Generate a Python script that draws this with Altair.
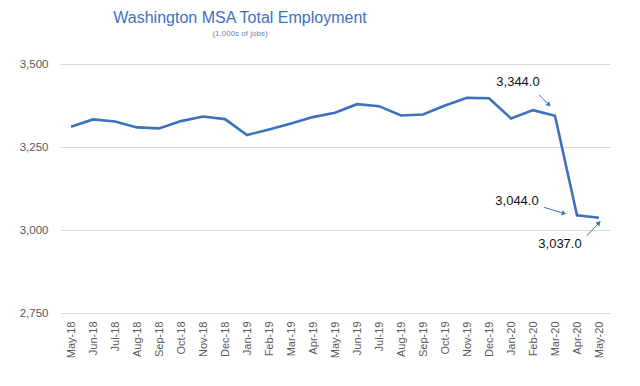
import altair as alt
import pandas as pd

months = ["May-18", "Jun-18", "Jul-18", "Aug-18", "Sep-18", "Oct-18", "Nov-18", "Dec-18",
          "Jan-19", "Feb-19", "Mar-19", "Apr-19", "May-19", "Jun-19", "Jul-19", "Aug-19",
          "Sep-19", "Oct-19", "Nov-19", "Dec-19", "Jan-20", "Feb-20", "Mar-20", "Apr-20", "May-20"]
employment = [3311, 3333, 3327, 3309, 3306, 3328, 3342, 3334,
              3286, 3303, 3321, 3340, 3353, 3379, 3373, 3345,
              3348, 3375, 3398, 3397, 3336, 3361, 3344.0, 3044.0, 3037.0]
y_ticks = [2750, 3000, 3250, 3500]

ann_months = ["Mar-20", "Apr-20", "May-20"]
ann_values = [3344.0, 3044.0, 3037.0]
ann_labels = ["3,344.0", "3,044.0", "3,037.0"]

df = pd.DataFrame({"month": months, "value": employment})
ann = pd.DataFrame({"month": ann_months, "value": ann_values, "label": ann_labels})

BLUE = "#3c72bd"
x_axis = alt.Axis(labelAngle=-90, labelColor="#595959", labelFontSize=11,
                  labelFont="Liberation Sans", ticks=False, domain=False,
                  labelPadding=8, grid=False, title=None)
y_axis = alt.Axis(values=y_ticks, format=",.0f", labelColor="#595959", labelFontSize=11.5,
                  labelFont="Liberation Sans", ticks=False, domain=False, labelPadding=12,
                  gridColor="#d9d9d9", gridWidth=1.2, title=None)
x_enc = alt.X("month:N", sort=months, title=None,
              scale=alt.Scale(type="point", padding=0.5), axis=x_axis)
y_enc = alt.Y("value:Q", title=None,
              scale=alt.Scale(domain=[2750, 3500], nice=False, zero=False), axis=y_axis)

line = alt.Chart(df).mark_line(color=BLUE, strokeWidth=2.6).encode(x=x_enc, y=y_enc)

def ann_layer(i, dx, dy, sx, sy, ex, ey, ang):
    sub = ann.iloc[[i]]
    base = alt.Chart(sub)
    txt = base.mark_text(dx=dx, dy=dy, fontSize=13, font="Liberation Sans", color="#111111").encode(
        x=x_enc, y=y_enc, text="label:N")
    rule = base.mark_rule(color=BLUE, strokeWidth=1, xOffset=sx, yOffset=sy, x2Offset=ex, y2Offset=ey).encode(
        x=x_enc, y=y_enc, x2="month:N", y2="value:Q")
    head = base.mark_point(shape="triangle-up", size=28, filled=True, color=BLUE, opacity=1,
                           xOffset=ex, yOffset=ey, angle=ang).encode(x=x_enc, y=y_enc)
    return [txt, rule, head]

layers = [line]
layers += ann_layer(0, -37, -34, -16, -21, -6, -11, 135)
layers += ann_layer(1, -60, -14, -33, -8, -13, -2, 107)
layers += ann_layer(2, -39, 26, -12, 18, 0, 5, 45)

chart = alt.layer(*layers).properties(
    width=550, height=249,
    background="white",
    autosize=alt.AutoSizeParams(type="none"),
    padding={"left": 52, "top": 56, "right": 22, "bottom": 65},
    title=alt.TitleParams(
        text="Washington MSA Total Employment",
        subtitle="(1,000s of jobs)",
        anchor="middle", dx=-95, offset=20,
        font="Liberation Sans", fontSize=16, fontWeight="normal", color="#3c72bd",
        subtitleFont="Liberation Sans", subtitleFontSize=8, subtitleColor="#6f86b0",
        subtitlePadding=4,
    ),
).configure_view(stroke=None)

chart.save("out.html", embed_options={"renderer": "svg", "actions": False})
